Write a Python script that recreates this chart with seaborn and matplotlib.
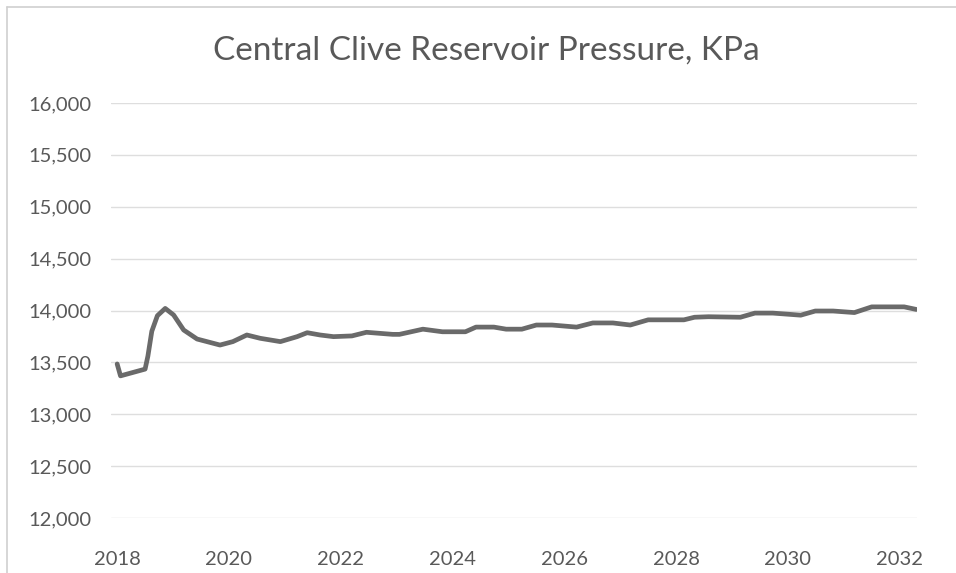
import matplotlib
matplotlib.use("Agg")
import matplotlib.pyplot as plt
import seaborn as sns
import pandas as pd
from matplotlib.ticker import FuncFormatter, MultipleLocator

# Reservoir pressure forecast (decimal year, kPa)
years = [2018.00, 2018.06, 2018.50, 2018.55, 2018.62, 2018.72, 2018.86, 2019.01,
         2019.19, 2019.43, 2019.84, 2020.07, 2020.32, 2020.56, 2020.92, 2021.22,
         2021.40, 2021.63, 2021.87, 2022.20, 2022.46, 2022.93, 2023.05, 2023.47,
         2023.82, 2024.23, 2024.42, 2024.74, 2024.96, 2025.24, 2025.50, 2025.78,
         2026.22, 2026.51, 2026.87, 2027.18, 2027.50, 2028.14, 2028.33, 2028.58,
         2029.15, 2029.41, 2029.73, 2030.23, 2030.49, 2030.81, 2031.19, 2031.50,
         2032.08, 2032.30]
pressure = [13485, 13370, 13435, 13560, 13800, 13950, 14020, 13957,
            13812, 13725, 13667, 13700, 13764, 13732, 13700, 13748,
            13786, 13764, 13748, 13755, 13790, 13770, 13770, 13820,
            13795, 13795, 13840, 13840, 13820, 13820, 13860, 13860,
            13840, 13880, 13880, 13860, 13910, 13910, 13935, 13940,
            13935, 13975, 13975, 13955, 13995, 13995, 13980, 14035,
            14035, 14010]

x_ticks = [2018, 2020, 2022, 2024, 2026, 2028, 2030, 2032]
title = "Central Clive Reservoir Pressure, KPa"

sns.set_style("white")
plt.rcParams["font.family"] = ["Lato", "DejaVu Sans"]

df = pd.DataFrame({"year": years, "pressure": pressure})

fig = plt.figure(figsize=(9.56, 5.73), dpi=100)
ax = fig.add_axes([111 / 956, 55 / 573, 806 / 956, 415 / 573])

sns.lineplot(data=df, x="year", y="pressure", ax=ax, color="#6a6a6a",
             linewidth=3.4, solid_capstyle="round", solid_joinstyle="round")

ax.set_xlim(2017.89, 2032.31)
ax.set_ylim(12000, 16000)
ax.yaxis.set_major_locator(MultipleLocator(500))
ax.yaxis.set_major_formatter(FuncFormatter(lambda v, p: f"{int(v):,}"))
ax.set_xticks(x_ticks)
ax.set_xticklabels([str(t) for t in x_ticks])

ax.grid(axis="y", color="#dedede", linewidth=1)
ax.grid(axis="x", visible=False)
for s in ax.spines.values():
    s.set_visible(False)
ax.tick_params(axis="both", length=0, labelsize=14.5, labelcolor="#595959")
ax.tick_params(axis="y", pad=14)
ax.tick_params(axis="x", pad=24)
ax.set_xlabel("")
ax.set_ylabel("")

fig.text(486 / 956, 1 - 60 / 573, title, ha="center", va="baseline",
         fontsize=24, color="#595959")

# Chart frame edges
fig.add_artist(plt.Line2D([7 / 956, 1], [1 - 7 / 573, 1 - 7 / 573],
                          transform=fig.transFigure, color="#d0d0d0", linewidth=1.2))
fig.add_artist(plt.Line2D([7 / 956, 7 / 956], [0, 1 - 7 / 573],
                          transform=fig.transFigure, color="#d0d0d0", linewidth=1.2))

fig.savefig("out.png", dpi=100)
